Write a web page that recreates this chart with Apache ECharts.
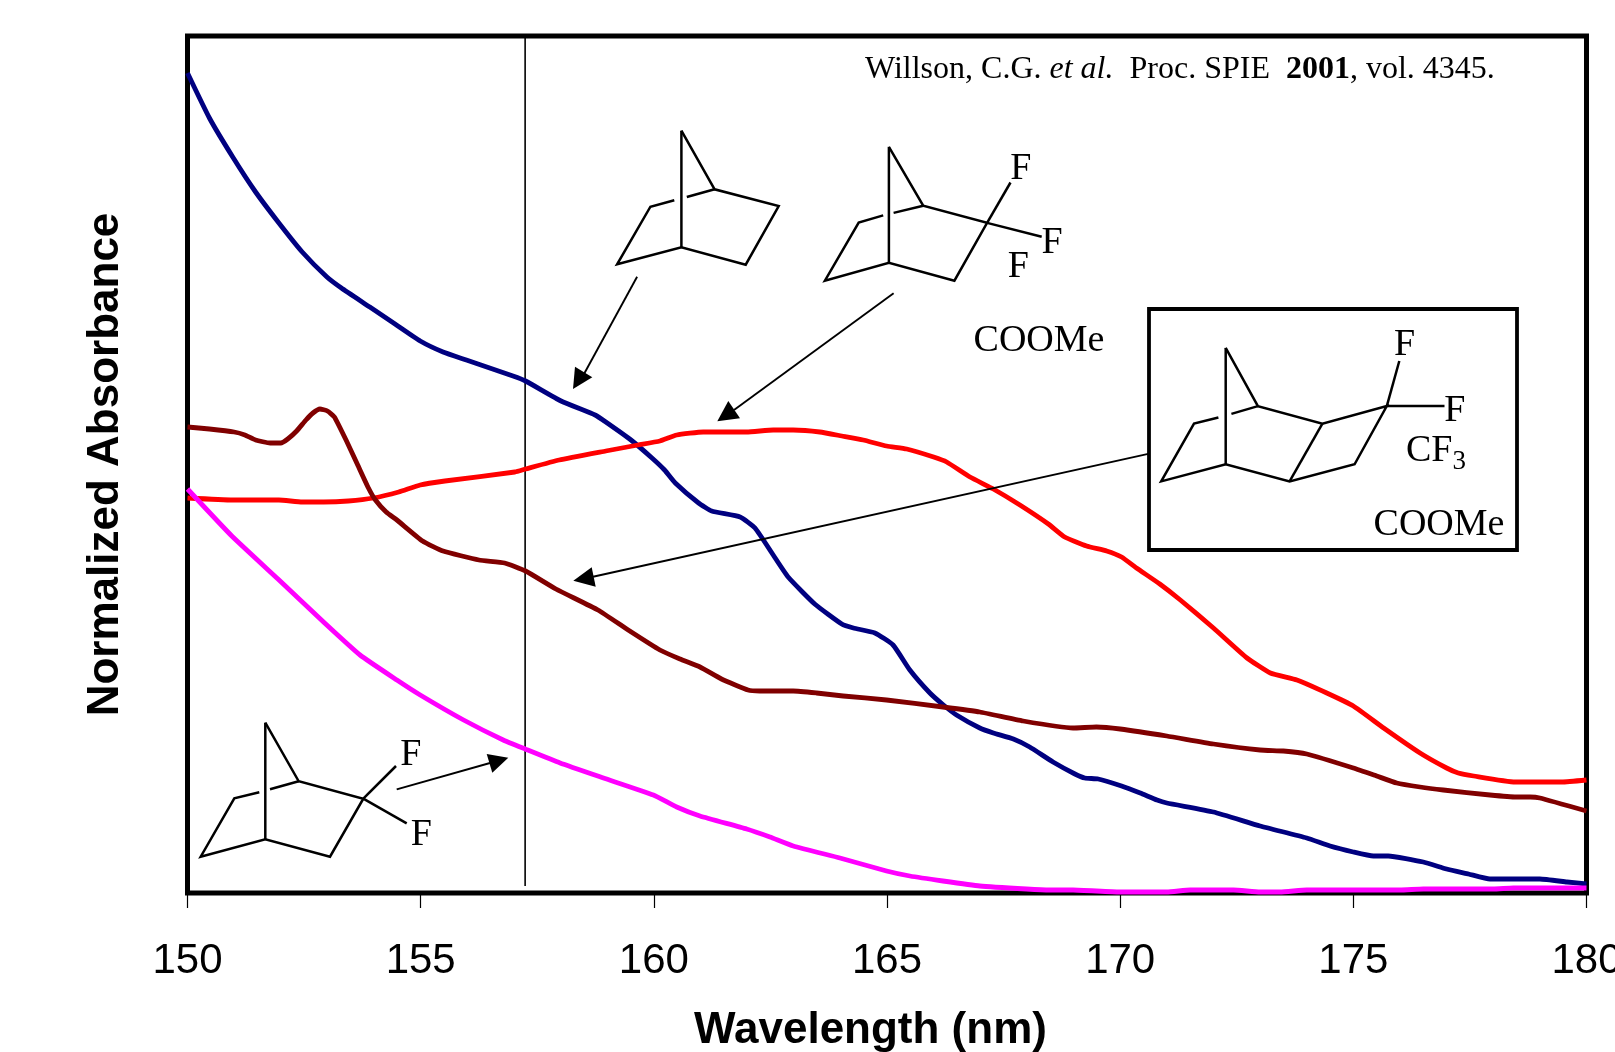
<!DOCTYPE html>
<html>
<head>
<meta charset="utf-8">
<title>Normalized Absorbance vs Wavelength</title>
<script src="https://cdn.jsdelivr.net/npm/echarts@6/dist/echarts.min.js"></script>
<style>html,body{margin:0;padding:0;background:#fff;overflow:hidden}#c{width:1615px;height:1052px}</style>
</head>
<body>
<div id="c"></div>
<script>
// Absorbance is on an arbitrary normalized scale as [nm, absorbance].
const xTicks = [150, 155, 160, 165, 170, 175, 180];
const norbornane = [[150,820],[150.47,775],[150.97,736],[151.46,701],[151.96,670],[152.46,641],[152.99,616],[153.3,605],[153.91,586],[154.45,569],[154.99,552],[155.48,541],[155.98,533],[156.98,517],[157.25,512],[158.01,492],[158.74,478],[158.97,471],[159.51,453],[159.96,435],[160.23,423],[160.46,410],[160.96,390],[161.24,382],[161.85,376],[162.17,365],[162.56,338],[162.88,316],[163.45,289],[164.03,269],[164.28,265],[164.74,260],[165.13,248],[165.49,223],[165.92,200],[166.21,188],[166.49,178],[166.99,165],[167.28,160],[167.71,154],[168.06,146],[168.56,131],[169.03,119],[169.24,115],[169.53,114],[170.03,107],[170.43,100],[170.79,93],[171,90],[172,81],[173,67],[174,55],[174.5,47],[175,41],[175.43,37],[175.75,37],[176.5,31],[177,24],[177.47,19],[177.93,14],[179,14],[179.58,11],[180,9]];
const trifluoro = [[150,395],[150.97,393],[151.96,393],[152.46,391],[152.92,391],[153.45,392],[153.99,395],[154.53,401],[154.99,408],[155.52,412],[157.02,421],[157.25,424],[157.97,433],[158.97,442],[159.66,448],[160.13,452],[160.49,458],[161.06,461],[161.49,461],[161.99,461],[162.56,463],[162.99,463],[163.56,461],[164.03,457],[164.49,453],[164.99,447],[165.42,444],[166,436],[166.28,431],[166.78,416],[167.28,404],[167.85,388],[168.46,369],[168.81,356],[169.28,347],[169.71,342],[170.03,336],[170.35,325],[170.85,309],[171.29,293],[172,265],[172.72,235],[173.22,220],[173.79,213],[174.43,200],[175,187],[175.65,165],[176.43,140],[177,125],[177.25,120],[177.58,117],[178.47,111],[179.47,111],[180,113]];
const tricyclic = [[150,466],[150.47,464],[151,461],[151.23,458],[151.46,453],[151.77,450],[152,450],[152.15,454],[152.34,462],[152.54,473],[152.69,480],[152.84,484],[153,482],[153.15,476],[153.42,451],[153.65,428],[153.88,405],[154.03,393],[154.26,381],[154.49,373],[155.04,352],[155.48,342],[156.25,333],[156.8,330],[157.25,322],[157.9,304],[158.8,283],[159.45,263],[160.13,243],[160.56,234],[160.99,226],[161.45,214],[162.02,203],[162.27,202],[162.99,202],[163.49,200],[164.06,197],[164.99,193],[166.2,186],[166.99,181],[167.92,172],[168.99,165],[169.49,166],[170,164],[171,157],[172,149],[173,143],[173.5,142],[174,139],[175,125],[175.5,117],[175.93,110],[176.43,106],[176.93,103],[177.93,98],[178.5,96],[178.79,96],[179,95],[180,82]];
const difluoro = [[150,404],[150.95,357],[151.94,314],[152.94,270],[153.7,238],[154.49,213],[154.99,198],[155.92,173],[156.77,153],[157.24,144],[157.99,130],[158.92,115],[159.99,98],[160.49,86],[160.99,77],[161.99,64],[162.49,56],[162.99,47],[163.99,35],[164.99,22],[165.49,17],[166.2,12],[166.99,7],[167.99,4],[168.49,3],[168.99,3],[169.99,1],[171,1],[171.5,3],[172.43,3],[173,1],[173.43,1],[174,3],[176,3],[176.5,4],[178,4],[178.43,5],[180,5]];
const cutoffLine = [[157.24,7],[157.24,857]];

// Annotation artwork (chemical structures, arrows, labels) in page pixels.
const bonds = [
  [[681.4,130.7],[681.4,247.3]],
  [[681.4,130.7],[714.6,189.3],[778.7,206],[745.7,264.7],[681.4,247.3],[617.1,264.3],[650.4,206.7],[674.3,200.3]],
  [[686.8,197],[714.6,189.3]],
  [[888.9,146.8],[888.9,262.9]],
  [[888.9,146.8],[923.2,205.7],[987.1,222.9],[954.4,280.7],[888.9,262.9],[824.9,280.7],[858.7,222.5],[883.2,215.4]],
  [[893.6,212.9],[923.2,205.7]],
  [[987.1,222.9],[1010.5,182.5]],
  [[987.1,222.9],[1041.7,236.8]],
  [[1225.7,347.9],[1225.7,464.3]],
  [[1225.7,347.9],[1257.9,406.1],[1322.4,423.6],[1386.8,406.1],[1354.6,464.3],[1289.6,481.4],[1225.7,464.3],[1161.2,481.4],[1194,423.6],[1218.4,417.5]],
  [[1231.4,413.9],[1257.9,406.1]],
  [[1322.4,423.6],[1289.6,481.4]],
  [[1386.8,406.1],[1399.3,361]],
  [[1386.8,406.1],[1444.5,406.1]],
  [[265.3,722.7],[265.3,839.3]],
  [[265.3,722.7],[298.7,781.3],[363.3,798.7],[330,856.7],[265.3,839.3],[200.7,856.7],[234.3,798.3],[259.3,792.3]],
  [[270,789.3],[298.7,781.3]],
  [[363.3,798.7],[396,766]],
  [[363.3,798.7],[406.7,823.3]]
];
const arrows = [
  {from:[637.1,276.7], to:[584,374], head:[[573,389],[575,366.7],[592.3,377.3]]},
  {from:[893.6,293.2], to:[734,410], head:[[717.3,421.3],[728.3,401],[740,418.3]]},
  {from:[1148.2,453.9], to:[593,576.7], head:[[573.3,580.7],[591.7,567.3],[595.7,586.7]]},
  {from:[396.7,789.3], to:[490,763], head:[[508.3,757.7],[486.7,754],[492.3,772.7]]}
];
const serifLabels = [
  ['F',1020.9,169],['F',1052,242.7],['F',1018.3,266.6],
  ['COOMe',1039,341.5],
  ['F',1404.5,345],['F',1454.9,410.6],['COOMe',1439,525.5],
  ['F',410.7,755.3],['F',421.3,834.7]
];

const SERIF = '"Liberation Serif","Times New Roman",serif';
const SANS = '"Liberation Sans",Arial,sans-serif';
const graphics = [];
graphics.push({type:'rect',z:50,shape:{x:1149,y:309,width:368,height:241},style:{fill:'#fff',stroke:'#000',lineWidth:3.8}});
bonds.forEach(p => graphics.push({type:'polyline',z:60,shape:{points:p},style:{fill:null,stroke:'#000',lineWidth:2.5,lineJoin:'miter'}}));
arrows.forEach(a => {
  graphics.push({type:'line',z:60,shape:{x1:a.from[0],y1:a.from[1],x2:a.to[0],y2:a.to[1]},style:{stroke:'#000',lineWidth:1.9}});
  graphics.push({type:'polygon',z:60,shape:{points:a.head},style:{fill:'#000'}});
});
serifLabels.forEach(l => graphics.push({type:'text',z:60,x:l[1],y:l[2],style:{text:l[0],fill:'#000',font:'38px '+SERIF,textAlign:'center',textVerticalAlign:'middle'}}));
graphics.push({type:'text',z:60,x:1406,y:451,style:{
  text:'{a|CF}{b|3}',textAlign:'left',textVerticalAlign:'middle',
  rich:{a:{font:'38px '+SERIF,fill:'#000'},b:{font:'27px '+SERIF,fill:'#000',padding:[22,0,0,0]}}}});
graphics.push({type:'text',z:60,x:865,y:70,style:{
  text:'Willson, C.G. {i|et al.}  Proc. SPIE  {b|2001}, vol. 4345.',textAlign:'left',textVerticalAlign:'middle',
  font:'32px '+SERIF,fill:'#000',
  rich:{i:{font:'italic 32px '+SERIF,fill:'#000'},b:{font:'bold 32px '+SERIF,fill:'#000'}}}});

function curve(name,data,color){
  return {name,type:'line',data,showSymbol:false,symbol:'none',clip:false,smooth:0.15,
    lineStyle:{color,width:4.8,join:'round',cap:'butt'},z:10,silent:true};
}
const chart = echarts.init(document.getElementById('c'),null,{renderer:'canvas'});
chart.setOption({
  animation:false,
  backgroundColor:'#fff',
  grid:{left:187.5,top:36,width:1399,height:857,show:true,borderColor:'#000',borderWidth:5,backgroundColor:'transparent',containLabel:false,outerBoundsMode:'none'},
  xAxis:{type:'value',min:xTicks[0],max:xTicks[xTicks.length-1],interval:5,
    name:'Wavelength (nm)',nameLocation:'middle',nameGap:116,
    nameTextStyle:{fontFamily:SANS,fontWeight:'bold',fontSize:44,color:'#000',padding:[0,33,0,0]},
    axisLine:{show:false},axisTick:{show:true,length:15,inside:false,lineStyle:{color:'#000',width:1.2}},
    axisLabel:{fontFamily:SANS,fontSize:42,color:'#000',margin:47,showMinLabel:true,showMaxLabel:true,hideOverlap:false},
    splitLine:{show:false}},
  yAxis:{type:'value',min:0,max:857,
    name:'Normalized Absorbance',nameLocation:'middle',nameGap:60,nameRotate:90,
    nameTextStyle:{fontFamily:SANS,fontWeight:'bold',fontSize:44,color:'#000'},
    axisLine:{show:false},axisTick:{show:false},axisLabel:{show:false},splitLine:{show:false}},
  series:[
    {name:'Cutoff',type:'line',data:cutoffLine,symbol:'none',clip:false,silent:true,lineStyle:{color:'#000',width:1.6},z:9},
    curve('Norbornane',norbornane,'#000080'),
    curve('Trifluoro COOMe norbornane',trifluoro,'#FF0000'),
    curve('Tricyclic CF3 COOMe',tricyclic,'#800000'),
    curve('Difluoro norbornane',difluoro,'#FF00FF')
  ],
  graphic:{elements:graphics}
});
</script>
</body>
</html>
